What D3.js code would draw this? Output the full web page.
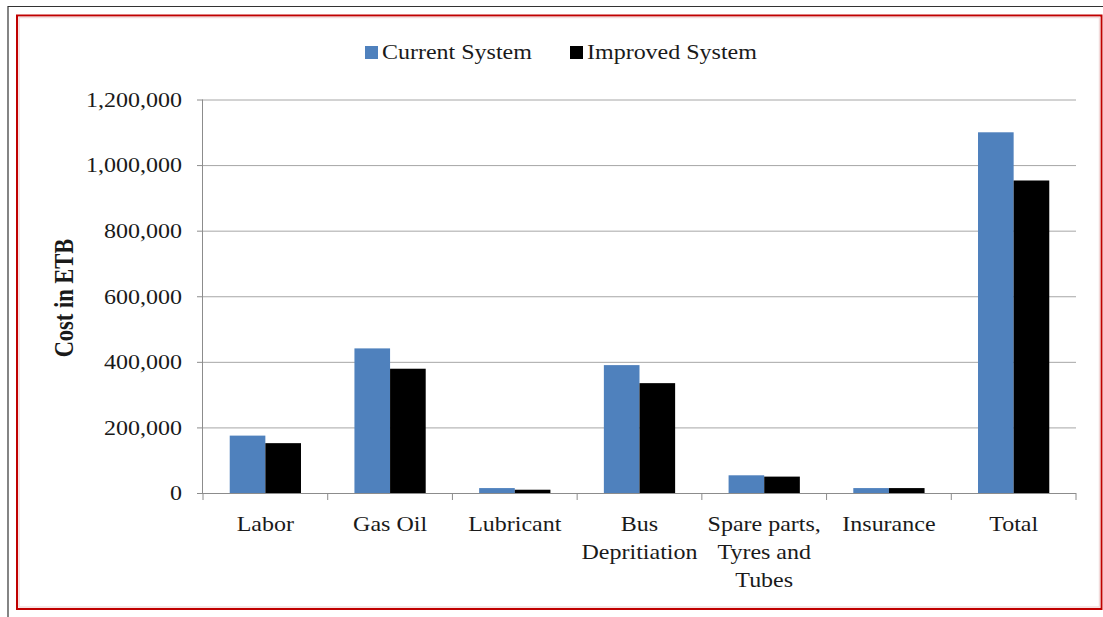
<!DOCTYPE html>
<html>
<head>
<meta charset="utf-8">
<script src="https://cdn.jsdelivr.net/npm/d3@7"></script>
<style>
  html, body { margin: 0; padding: 0; background: #fff; }
  svg { display: block; }
  text { font-family: "Liberation Serif", "Times New Roman", serif; fill: #1a1a1a; }
</style>
</head>
<body>
<svg id="chart" width="1103" height="617"></svg>
<script>
// Cost comparison (ETB) per cost item
const categories = ["Labor", "Gas Oil", "Lubricant", "Bus Depritiation", "Spare parts, Tyres and Tubes", "Insurance", "Total"];
const categoryLines = [["Labor"], ["Gas Oil"], ["Lubricant"], ["Bus", "Depritiation"], ["Spare parts,", "Tyres and", "Tubes"], ["Insurance"], ["Total"]];
const seriesNames = ["Current System", "Improved System"];
const currentValues = [175000, 441000, 15000, 390000, 54000, 15000, 1100000];
const improvedValues = [152000, 379000, 10000, 335000, 50000, 15000, 953000];
const yTicks = [0, 200000, 400000, 600000, 800000, 1000000, 1200000];
const seriesColors = ["#4F81BD", "#000000"];

const W = 1103, H = 617;
const plot = { left: 203, right: 1076, top: 99.5, bottom: 493 };
const SX = 1.2; // horizontal stretch of the lettering

const svg = d3.select("#chart");

// frames
svg.append("line").attr("x1", 8).attr("y1", 6.5).attr("x2", W).attr("y2", 6.5)
  .attr("stroke", "#333").attr("stroke-width", 1.2);
svg.append("line").attr("x1", 8).attr("y1", 6).attr("x2", 8).attr("y2", H)
  .attr("stroke", "#333").attr("stroke-width", 1.2);
svg.append("rect").attr("x", 17).attr("y", 15.5).attr("width", 1084.5).attr("height", 593.5)
  .attr("fill", "#fff").attr("stroke", "#c00000").attr("stroke-width", 2);
svg.append("rect").attr("x", 19).attr("y", 17.5).attr("width", 1080.5).attr("height", 589.5)
  .attr("fill", "none").attr("stroke", "#f3dcdc").attr("stroke-width", 1.5);

const x = d3.scaleBand().domain(categories).range([plot.left, plot.right]).padding(0);
const xInner = d3.scaleBand().domain(seriesNames).range([0, x.bandwidth()])
  .paddingInner(0).paddingOuter(0.75);
const y = d3.scaleLinear().domain([0, 1200000]).range([plot.bottom, plot.top]);

// gridlines
svg.append("g")
  .attr("transform", `translate(${plot.left},0)`)
  .call(d3.axisLeft(y).tickValues(yTicks.filter(d => d > 0)).tickSize(-(plot.right - plot.left)).tickFormat(""))
  .call(g => g.select(".domain").remove())
  .call(g => g.selectAll("line").attr("stroke", "#a6a6a6").attr("stroke-width", 1));

// bars
const rows = categories.map((c, i) => ({ c, vals: [currentValues[i], improvedValues[i]] }));
const groups = svg.append("g").selectAll("g").data(rows).join("g")
  .attr("transform", d => `translate(${x(d.c)},0)`);
groups.selectAll("rect").data(d => d.vals.map((v, k) => ({ v, k })))
  .join("rect")
  .attr("x", d => xInner(seriesNames[d.k]))
  .attr("width", xInner.bandwidth())
  .attr("y", d => y(d.v))
  .attr("height", d => y(0) - y(d.v))
  .attr("fill", d => seriesColors[d.k]);

// y axis
const yAxis = svg.append("g")
  .attr("transform", `translate(${plot.left},0)`)
  .call(d3.axisLeft(y).tickValues(yTicks).tickSize(6).tickFormat(d3.format(",")));
yAxis.select(".domain").attr("stroke", "#8c8c8c").attr("d", `M-0.5,${plot.top}V${plot.bottom}`);
yAxis.selectAll(".tick line").attr("stroke", "#8c8c8c");
yAxis.selectAll(".tick text")
  .attr("x", -21 / SX).attr("dy", "0.34em")
  .attr("transform", `scale(${SX},1)`)
  .style("font-size", "20px").attr("fill", "#222");

// x axis line and boundary ticks
svg.append("line").attr("x1", plot.left).attr("x2", plot.right)
  .attr("y1", plot.bottom + 0.5).attr("y2", plot.bottom + 0.5).attr("stroke", "#8c8c8c");
const bounds = categories.map(c => x(c)).concat([plot.right]);
svg.append("g").selectAll("line").data(bounds).join("line")
  .attr("x1", d => d).attr("x2", d => d)
  .attr("y1", plot.bottom).attr("y2", plot.bottom + 7)
  .attr("stroke", "#8c8c8c");

// category labels
const lab = svg.append("g").selectAll("text").data(categories.map((c, i) => ({ c, lines: categoryLines[i] })))
  .join("text")
  .attr("transform", d => `translate(${x(d.c) + x.bandwidth() / 2},531) scale(${SX},1)`)
  .attr("text-anchor", "middle")
  .style("font-size", "20px");
lab.selectAll("tspan").data(d => d.lines).join("tspan")
  .attr("x", 0).attr("y", (d, i) => i * 28).text(d => d);

// y axis title
svg.append("text")
  .attr("transform", `translate(73,298) scale(${SX},1) rotate(-90)`)
  .attr("text-anchor", "middle")
  .style("font-size", "22.5px").style("font-weight", "bold")
  .text("Cost in ETB");

// legend
const legendX = [365, 570];
const leg = svg.append("g").selectAll("g").data(seriesNames).join("g")
  .attr("transform", (d, i) => `translate(${legendX[i]},46)`);
leg.append("rect").attr("width", 13).attr("height", 13).attr("fill", (d, i) => seriesColors[i]);
leg.append("text")
  .attr("transform", `translate(17,12.5) scale(${SX},1)`)
  .style("font-size", "20px")
  .text(d => d);
</script>
</body>
</html>
